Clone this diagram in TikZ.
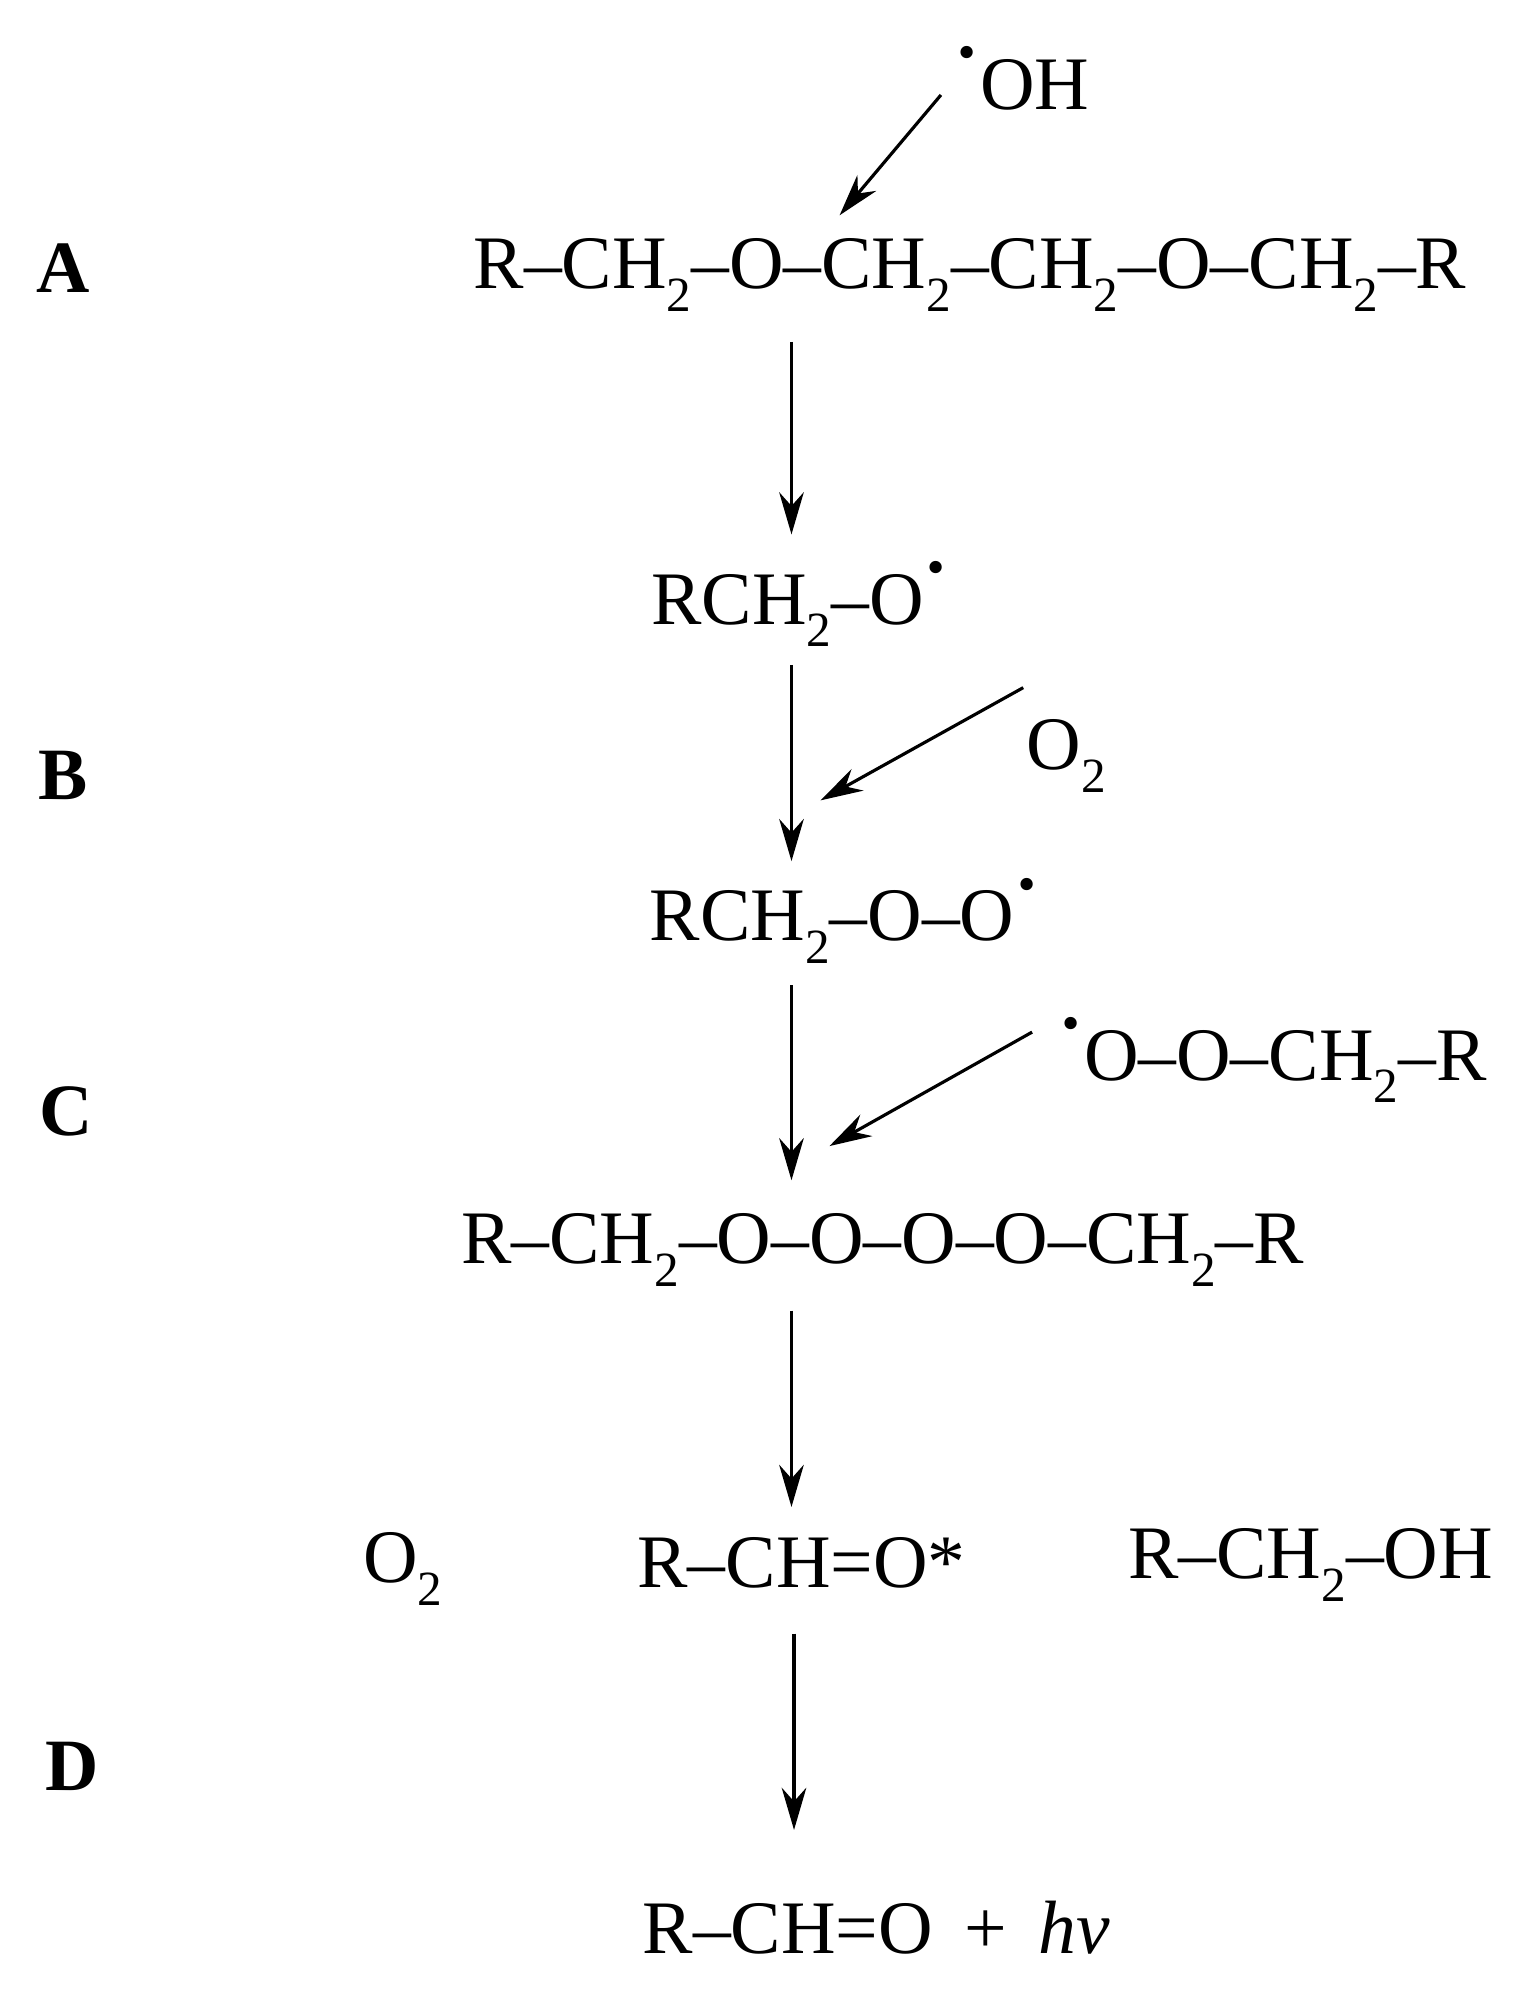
\documentclass[tikz,border=0pt]{standalone}
\usepackage{fontspec}
\setmainfont{Liberation Serif}
\usetikzlibrary{arrows.meta}
\newcommand{\rdot}{\raisebox{0.42em}{\textbf{·}}}
\newcommand{\two}{\raisebox{-0.3em}{\fontsize{14}{16}\selectfont 2}}
\begin{document}
\begin{tikzpicture}[x=0.01266cm,y=-0.01266cm,
  chem/.style={inner sep=0pt,font=\fontsize{21.5}{24}\selectfont},
  lab/.style={inner sep=0pt,font=\fontsize{21}{24}\selectfont\bfseries},
  arr/.style={line width=0.9pt,-{Stealth[length=12pt,width=7pt]}}]
\useasboundingbox (0,0) rectangle (1216,1573);
\node[lab] (A) at (50,212) {A};
\node[lab] (B) at (50,612) {B};
\node[lab] (C) at (52,878) {C};
\node[lab] (D) at (57,1395) {D};
\node[chem] (oh) at (807,62) {\rdot OH};
\node[chem] (r1) at (766,217) {R–CH\two–O–CH\two–CH\two–O–CH\two–R};
\node[chem] (r2) at (632,477) {RCH\two–O\rdot};
\node[chem] (o2a) at (842,597) {O\two};
\node[chem] (r3) at (667,727) {RCH\two–O–O\rdot};
\node[chem] (oo) at (1005,837) {\rdot O–O–CH\two–R};
\node[chem] (r4) at (697,987) {R–CH\two–O–O–O–O–CH\two–R};
\node[chem] (o2b) at (318,1239) {O\two};
\node[chem] (r5) at (633,1234) {R–CH=O*};
\node[chem] (alc) at (1035,1236) {R–CH\two–OH};
\node[chem] (r6) at (692,1522) {R–CH=O \,+\, \textit{hv}};
\coordinate (a1s) at (743,75); \coordinate (a1e) at (663,170);
\draw[arr] (a1s) -- (a1e);
\coordinate (v1s) at (625,270); \coordinate (v1e) at (625,422);
\draw[arr] (v1s) -- (v1e);
\coordinate (v2s) at (625,525); \coordinate (v2e) at (625,680);
\draw[arr] (v2s) -- (v2e);
\coordinate (d2s) at (808,543); \coordinate (d2e) at (648,632);
\draw[arr] (d2s) -- (d2e);
\coordinate (v3s) at (625,778); \coordinate (v3e) at (625,932);
\draw[arr] (v3s) -- (v3e);
\coordinate (d3s) at (815,815); \coordinate (d3e) at (655,905);
\draw[arr] (d3s) -- (d3e);
\coordinate (v4s) at (625,1035); \coordinate (v4e) at (625,1190);
\draw[arr] (v4s) -- (v4e);
\coordinate (v5s) at (627,1290); \coordinate (v5e) at (627,1445);
\draw[arr] (v5s) -- (v5e);
\end{tikzpicture}
\end{document}
